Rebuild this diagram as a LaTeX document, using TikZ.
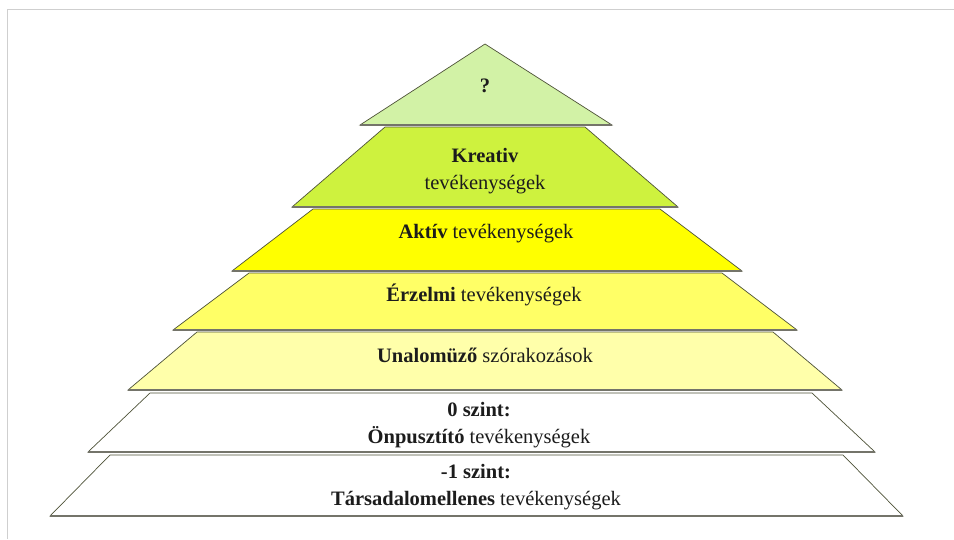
\documentclass[tikz,border=0pt]{standalone}
\usepackage{fontspec}
\setmainfont{Liberation Serif}
\usepackage{xcolor}
\usepackage{tikz}
\definecolor{ink}{HTML}{1C1C1C}
\definecolor{edge}{HTML}{4E5238}
\definecolor{shade}{HTML}{74746A}
\definecolor{frame}{HTML}{CFCFCF}
\definecolor{apex}{HTML}{D2F2A6}
\definecolor{creative}{HTML}{CEF23E}
\definecolor{active}{HTML}{FFFF00}
\definecolor{emotion}{HTML}{FFFF66}
\definecolor{leisure}{HTML}{FFFFAA}
\tikzset{
  layer/.style={draw=edge, line width=0.7pt, line join=miter},
  baseline edge/.style={draw=shade, line width=1.6pt},
  border/.style={draw=frame, line width=0.8pt},
  lab/.style={text=ink, font=\fontsize{20.5}{26.5}\selectfont, align=center},
}

\begin{document}
\begin{tikzpicture}[x=1pt,y=-1pt]
\useasboundingbox (0,0) rectangle (954,539);
\draw[border] (954,9) -- (7,9) -- (7,539);
% pyramid layers, top down
\coordinate (Q) at (485,44);
\coordinate (Ql) at (360,125);
\coordinate (Qr) at (612,125);
\coordinate (Ktl) at (385,127);
\coordinate (Ktr) at (585,127);
\coordinate (Kbl) at (292,207);
\coordinate (Kbr) at (678,207);
\coordinate (Atl) at (313,209);
\coordinate (Atr) at (660,209);
\coordinate (Abl) at (232,271);
\coordinate (Abr) at (742,271);
\coordinate (Etl) at (249,273);
\coordinate (Etr) at (722,273);
\coordinate (Ebl) at (173,330);
\coordinate (Ebr) at (797,330);
\coordinate (Utl) at (197,332);
\coordinate (Utr) at (773,332);
\coordinate (Ubl) at (128,390);
\coordinate (Ubr) at (842,390);
\coordinate (Ztl) at (150,393);
\coordinate (Ztr) at (812,393);
\coordinate (Zbl) at (88,452);
\coordinate (Zbr) at (875,452);
\coordinate (Mtl) at (110,455);
\coordinate (Mtr) at (843,455);
\coordinate (Mbl) at (50,516);
\coordinate (Mbr) at (903,516);
\draw[layer, fill=white] (Mtl)--(Mtr)--(Mbr)--(Mbl)--cycle;
\draw[baseline edge] (Mbl)--(Mbr);
\draw[layer, fill=white] (Ztl)--(Ztr)--(Zbr)--(Zbl)--cycle;
\draw[baseline edge] (Zbl)--(Zbr);
\draw[layer, fill=leisure] (Utl)--(Utr)--(Ubr)--(Ubl)--cycle;
\draw[baseline edge] (Ubl)--(Ubr);
\draw[layer, fill=emotion] (Etl)--(Etr)--(Ebr)--(Ebl)--cycle;
\draw[baseline edge] (Ebl)--(Ebr);
\draw[layer, fill=active] (Atl)--(Atr)--(Abr)--(Abl)--cycle;
\draw[baseline edge] (Abl)--(Abr);
\draw[layer, fill=creative] (Ktl)--(Ktr)--(Kbr)--(Kbl)--cycle;
\draw[baseline edge] (Kbl)--(Kbr);
\draw[layer, fill=apex] (Q)--(Qr)--(Ql)--cycle;
\draw[baseline edge] (Ql)--(Qr);
% labels
\node[lab] (top) at (485,86) {\textbf{?}};
\node[lab] (kreativ) at (485,171) {\textbf{Kreativ}\\tevékenységek};
\node[lab] (aktiv) at (486,234) {\textbf{Aktív} tevékenységek};
\node[lab] (erzelmi) at (484,295) {\textbf{Érzelmi} tevékenységek};
\node[lab] (unalom) at (485,355) {\textbf{Unalomüző} szórakozások};
\node[lab] (nulla) at (479,425) {\textbf{0 szint:}\\\textbf{Önpusztító} tevékenységek};
\node[lab] (minusz) at (476,487) {\textbf{-1 szint:}\\\textbf{Társadalomellenes} tevékenységek};
\end{tikzpicture}
\end{document}
